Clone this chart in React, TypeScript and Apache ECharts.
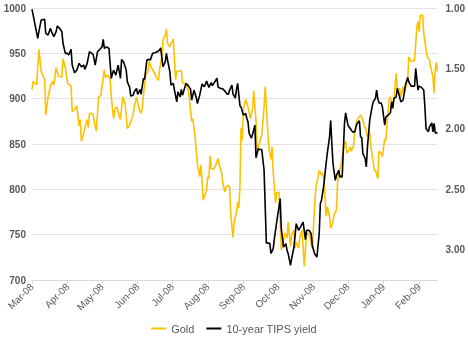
import React, { useEffect, useRef } from "react";
import * as echarts from "echarts";

// x values are days since 1 Mar 2008
const monthStarts = [0, 31, 61, 92, 122, 153, 184, 214, 245, 275, 306, 337];
const monthLabels = ["Mar-08", "Apr-08", "May-08", "Jun-08", "Jul-08", "Aug-08", "Sep-08", "Oct-08", "Nov-08", "Dec-08", "Jan-09", "Feb-09"];
const lastDay = 353;

const gold: [number, number][] = [
  [0,910],[1,919],[4,915],[6,954],[8,930],[11,921],[12,882],[14,902],[16,914],[18,919],[19,915],[21,934],[23,925],[26,924],[27,944],[29,934],[31,917],[34,914],[35,886],[37,888],[39,892],[41,870],[42,877],[43,853],[45,862],[47,873],[48,877],[49,868],[50,884],[53,883],[55,870],[56,864],[58,902],[60,904],[61,914],[63,932],[64,923],[66,926],[68,921],[69,902],[71,878],[72,888],[74,891],[76,880],[77,877],[79,902],[81,895],[83,867],[85,871],[87,879],[88,882],[89,891],[91,902],[93,889],[95,884],[96,889],[97,904],[99,926],[101,930],[102,941],[104,934],[106,930],[108,924],[110,920],[111,932],[113,946],[114,965],[116,970],[117,977],[118,961],[120,957],[122,963],[123,966],[125,921],[126,930],[130,931],[131,917],[134,917],[136,909],[137,899],[139,875],[140,878],[142,858],[143,843],[144,827],[146,814],[147,827],[148,810],[149,788],[150,792],[152,799],[153,814],[154,812],[155,837],[156,823],[158,822],[160,827],[162,834],[163,827],[165,819],[166,807],[168,797],[169,803],[171,804],[172,803],[173,772],[175,747],[176,764],[178,775],[179,786],[180,779],[181,803],[182,868],[183,854],[184,889],[186,899],[188,891],[190,878],[192,889],[193,909],[195,875],[196,842],[197,847],[200,860],[202,891],[203,913],[205,869],[206,847],[208,833],[209,847],[210,818],[212,785],[213,796],[215,797],[216,766],[217,733],[219,744],[220,752],[222,746],[223,764],[225,737],[226,750],[228,755],[229,735],[230,742],[232,735],[233,746],[235,755],[236,737],[237,715],[239,752],[241,750],[242,748],[243,739],[244,735],[246,781],[247,801],[249,814],[250,821],[252,816],[253,818],[254,810],[256,770],[257,781],[259,770],[260,757],[262,764],[263,772],[265,777],[266,808],[267,818],[269,827],[270,836],[272,851],[273,853],[274,840],[276,843],[277,847],[278,842],[280,849],[281,865],[282,871],[283,877],[285,880],[286,882],[288,877],[289,871],[291,865],[292,858],[294,862],[295,847],[296,838],[298,821],[299,821],[301,812],[302,842],[304,840],[305,836],[307,856],[308,854],[309,873],[311,900],[312,902],[314,891],[315,899],[317,928],[318,911],[320,911],[321,902],[323,913],[324,906],[325,911],[327,921],[328,946],[330,941],[331,941],[333,942],[335,979],[336,985],[337,974],[338,992],[340,992],[341,972],[343,954],[344,946],[346,943],[347,935],[349,924],[350,906],[351,932],[352,940],[353,930]
];

const tips: [number, number][] = [
  [0,1.01],[3,1.155],[5,1.251],[6,1.196],[8,1.099],[11,1.094],[12,1.21],[14,1.224],[16,1.168],[17,1.196],[19,1.238],[21,1.196],[22,1.149],[24,1.168],[26,1.196],[27,1.292],[29,1.375],[31,1.375],[32,1.389],[34,1.342],[35,1.472],[37,1.536],[39,1.514],[41,1.458],[43,1.486],[45,1.472],[46,1.508],[48,1.458],[50,1.362],[53,1.381],[54,1.417],[55,1.472],[57,1.362],[59,1.342],[61,1.321],[62,1.259],[63,1.334],[65,1.321],[67,1.334],[69,1.582],[71,1.514],[73,1.555],[75,1.472],[77,1.582],[78,1.425],[80,1.453],[82,1.514],[83,1.611],[85,1.657],[86,1.729],[88,1.721],[89,1.693],[91,1.665],[92,1.715],[94,1.674],[95,1.713],[97,1.582],[98,1.591],[100,1.431],[102,1.425],[103,1.431],[105,1.375],[107,1.37],[109,1.362],[111,1.348],[112,1.329],[114,1.486],[116,1.445],[117,1.375],[118,1.431],[120,1.528],[121,1.638],[123,1.624],[124,1.679],[126,1.776],[127,1.693],[129,1.735],[130,1.674],[131,1.721],[134,1.624],[136,1.642],[138,1.671],[139,1.762],[141,1.679],[143,1.742],[144,1.79],[146,1.721],[148,1.63],[150,1.65],[151,1.63],[152,1.605],[154,1.657],[156,1.617],[157,1.642],[159,1.613],[161,1.58],[162,1.655],[164,1.663],[166,1.669],[168,1.688],[170,1.713],[171,1.713],[172,1.679],[174,1.638],[175,1.713],[177,1.746],[178,1.671],[179,1.624],[181,1.808],[182,1.82],[184,1.886],[186,1.872],[187,1.914],[188,1.942],[189,2.036],[191,2.077],[192,2.044],[194,1.969],[195,2.239],[197,2.162],[198,2.171],[200,2.171],[202,2.342],[203,2.646],[204,2.943],[207,2.947],[208,3.03],[210,2.991],[211,2.906],[213,2.771],[215,2.646],[216,2.577],[217,2.825],[219,2.978],[221,2.949],[222,3.005],[223,3.032],[225,3.129],[226,3.074],[228,2.978],[230,2.784],[232,2.839],[234,2.806],[236,2.771],[238,2.916],[239,2.839],[241,2.839],[243,2.867],[244,2.964],[246,3.033],[248,3.061],[250,2.867],[251,2.618],[252,2.591],[254,2.466],[256,2.287],[257,2.204],[259,2.066],[260,1.93],[261,2.121],[262,2.287],[264,2.425],[265,2.384],[267,2.342],[268,2.398],[269,2.392],[270,2.398],[271,2.176],[272,1.955],[273,1.867],[275,1.969],[277,1.997],[279,2.025],[281,2.025],[282,1.983],[283,1.955],[285,1.934],[286,2.066],[287,2.071],[288,2.204],[290,2.245],[291,2.315],[292,2.149],[294,1.928],[296,1.818],[297,1.776],[299,1.748],[300,1.679],[301,1.748],[302,1.785],[304,1.787],[305,1.818],[307,1.969],[308,1.9],[310,1.887],[312,1.867],[313,1.776],[314,1.831],[315,1.748],[317,1.735],[318,1.665],[320,1.735],[321,1.776],[323,1.762],[324,1.707],[325,1.638],[327,1.574],[328,1.611],[330,1.646],[333,1.646],[334,1.5],[336,1.679],[337,1.646],[339,1.657],[341,1.679],[342,1.818],[343,1.997],[345,2.025],[346,1.983],[348,1.95],[349,2.025],[350,1.955],[351,2.033],[353,2.033]
];

const goldTicks = [700, 750, 800, 850, 900, 950, 1000];
const tipsTicks = [1.0, 1.5, 2.0, 2.5, 3.0];

const FONT = "'Liberation Sans', Arial, sans-serif";
const GREY = "#595959";

export default function App() {
  const ref = useRef<HTMLDivElement>(null);
  useEffect(() => {
    if (!ref.current) return;
    const chart = echarts.init(ref.current, undefined, { renderer: "svg" });
    chart.setOption({
      animation: false,
      textStyle: { fontFamily: FONT },
      grid: { left: 32, right: 30, top: 8, bottom: 59, containLabel: false },
      legend: {
        top: 318,
        left: "center",
        icon: "rect",
        itemWidth: 15,
        itemHeight: 2,
        itemGap: 12,
        textStyle: { fontSize: 11, color: GREY, fontFamily: FONT },
        data: ["Gold", "10-year TIPS yield"],
      },
      xAxis: {
        type: "value",
        min: 0,
        max: lastDay,
        splitLine: { show: false },
        axisLine: { show: true, lineStyle: { color: "#d9d9d9", width: 1 } },
        axisTick: { show: true, customValues: monthStarts, length: 4, lineStyle: { color: "#d9d9d9" } },
        axisLabel: {
          customValues: monthStarts,
          rotate: 45,
          margin: 5,
          fontSize: 10,
          color: GREY,
          fontFamily: FONT,
          formatter: (v: number) => {
            const i = monthStarts.indexOf(Math.round(v));
            return i >= 0 ? monthLabels[i] : "";
          },
        },
      },
      yAxis: [
        {
          type: "value",
          min: goldTicks[0],
          max: goldTicks[goldTicks.length - 1],
          interval: 50,
          axisLine: { show: false },
          axisTick: { show: false },
          splitLine: { show: true, lineStyle: { color: "#e3e3e3", width: 1 } },
          axisLabel: {
            fontSize: 10,
            fontWeight: "bold",
            color: GREY,
            margin: 6,
            fontFamily: FONT,
            formatter: (v: number) => String(Math.round(v)),
          },
        },
        {
          type: "value",
          inverse: true,
          min: 1,
          max: 3.25,
          interval: 0.5,
          axisLine: { show: false },
          axisTick: { show: false },
          splitLine: { show: false },
          axisLabel: {
            fontSize: 10,
            fontWeight: "bold",
            color: GREY,
            margin: 8,
            fontFamily: FONT,
            formatter: (v: number) => (tipsTicks.some((t) => Math.abs(t - v) < 1e-6) ? v.toFixed(2) : ""),
          },
        },
      ],
      series: [
        {
          name: "Gold",
          type: "line",
          yAxisIndex: 0,
          data: gold,
          symbol: "none",
          color: "#FFC000",
          lineStyle: { width: 1.6, color: "#FFC000" },
        },
        {
          name: "10-year TIPS yield",
          type: "line",
          yAxisIndex: 1,
          data: tips,
          symbol: "none",
          color: "#000000",
          lineStyle: { width: 1.6, color: "#000000" },
        },
      ],
    });
    return () => chart.dispose();
  }, []);
  return <div ref={ref} style={{ position: "fixed", left: 0, top: 0, width: 468, height: 339 }} />;
}
